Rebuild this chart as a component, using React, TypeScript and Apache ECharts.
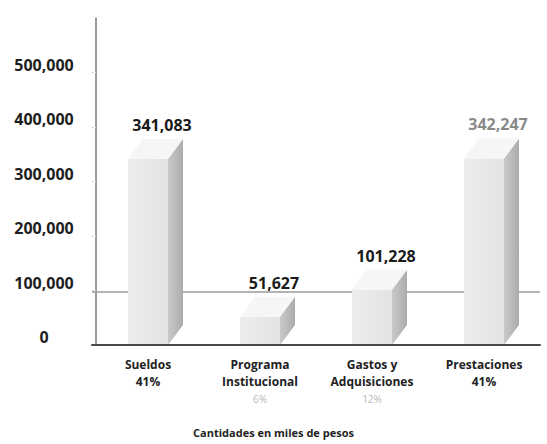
import React, { useEffect, useRef } from "react";
import * as echarts from "echarts";

const categories = ["Sueldos", "Programa\nInstitucional", "Gastos y\nAdquisiciones", "Prestaciones"];
const shares = ["41%", "6%", "12%", "41%"];
const values = [341083, 51627, 101228, 342247];
const yTickLabels = ["0", "100,000", "200,000", "300,000", "400,000", "500,000"];
const referenceLine = 97000;
const chartTitle = "Cantidades en miles de pesos";

const FONT = "'Open Sans', 'DejaVu Sans', sans-serif";

export default function App() {
  const ref = useRef<HTMLDivElement>(null);
  useEffect(() => {
    document.body.style.margin = "0";
    const chart = echarts.init(ref.current!, null, { renderer: "svg" });
    const faintShare = (i: number) => i === 1 || i === 2;
    const option: any = {
      animation: false,
      backgroundColor: "#ffffff",
      title: {
        text: chartTitle,
        left: "center",
        bottom: 1,
        textStyle: { fontSize: 11, fontWeight: "bold", color: "#222", fontFamily: FONT },
      },
      grid: { left: 92, right: 7, top: 18, bottom: 99, containLabel: false },
      xAxis: {
        type: "category",
        data: categories,
        z: 4,
        axisLine: { show: true, lineStyle: { color: "#4a4a4a", width: 2 } },
        axisTick: { show: false },
        axisLabel: {
          interval: 0,
          margin: 11,
          formatter: (v: string, i: number) => {
            const nameLines = v.split("\n").map((l) => `{n|${l}}`).join("\n");
            const s = faintShare(i) ? `{f|${shares[i]}}` : `{p|${shares[i]}}`;
            return nameLines + "\n" + s;
          },
          rich: {
            n: { fontSize: 12, fontWeight: "bold", color: "#222", lineHeight: 17, fontFamily: FONT },
            p: { fontSize: 12, fontWeight: "bold", color: "#222", lineHeight: 17, fontFamily: FONT },
            f: { fontSize: 10, color: "#b8b8b8", lineHeight: 17, fontFamily: FONT },
          },
        },
      },
      yAxis: {
        type: "value",
        min: 0,
        max: 600000,
        interval: 100000,
        offset: -4,
        axisLine: { show: true, lineStyle: { color: "#7a7a7a", width: 1.5 } },
        axisTick: { show: true, length: 5, lineStyle: { color: "#e2e2e2" } },
        splitLine: { show: false },
        axisLabel: {
          showMaxLabel: false,
          align: "center",
          verticalAlign: "bottom",
          margin: 52,
          fontSize: 16,
          fontWeight: "bold",
          color: "#1e1e1e",
          fontFamily: FONT,
          formatter: (v: number) => {
            const i = Math.round(v / 100000);
            return yTickLabels[i] ?? "";
          },
        },
      },
      series: [
        {
          type: "line",
          z: 1,
          data: ["-", "-", "-", "-"],
          silent: true,
          markLine: {
            z: 1,
            silent: true,
            symbol: "none",
            label: { show: false },
            lineStyle: { color: "#9a9a9a", width: 1.5, type: "solid" },
            data: [{ yAxis: referenceLine }],
          },
        },
        {
          type: "custom",
          z: 3,
          data: values.map((v, i) => [i, v]),
          encode: { x: 0, y: 1 },
          renderItem: (params: any, api: any) => {
            const idx = api.value(0);
            const v = api.value(1);
            const top = api.coord([idx, v]);
            const base = api.coord([idx, 0]);
            const w = 40;
            const dx = 15;
            const dy = 20;
            const x0 = top[0] - w / 2;
            const x1 = top[0] + w / 2;
            const labelColor = idx === 3 ? "#8a8a8a" : "#1a1a1a";
            return {
              type: "group",
              children: [
                {
                  type: "rect",
                  shape: { x: x0, y: top[1], width: w, height: base[1] - top[1] },
                  style: {
                    fill: new echarts.graphic.LinearGradient(0, 0, 1, 0, [
                      { offset: 0, color: "#ededed" },
                      { offset: 1, color: "#e3e3e3" },
                    ]),
                  },
                },
                {
                  type: "polygon",
                  shape: {
                    points: [
                      [x1, top[1]],
                      [x1 + dx, top[1] - dy],
                      [x1 + dx, base[1] - dy],
                      [x1, base[1]],
                    ],
                  },
                  style: {
                    fill: new echarts.graphic.LinearGradient(0, 0, 1, 0, [
                      { offset: 0, color: "#c9c9c9" },
                      { offset: 1, color: "#acacac" },
                    ]),
                  },
                },
                {
                  type: "polygon",
                  shape: {
                    points: [
                      [x0, top[1]],
                      [x0 + dx, top[1] - dy],
                      [x1 + dx, top[1] - dy],
                      [x1, top[1]],
                    ],
                  },
                  style: { fill: "#f6f6f6" },
                },
                {
                  type: "text",
                  x: top[0] + 14,
                  y: top[1] - dy - 6,
                  style: {
                    text: values[idx].toLocaleString("en-US"),
                    fill: labelColor,
                    fontSize: 16,
                    fontWeight: "bold",
                    fontFamily: FONT,
                    align: "center",
                    verticalAlign: "bottom",
                  },
                },
              ],
            };
          },
        },
      ],
    };
    chart.setOption(option);
    return () => chart.dispose();
  }, []);
  return <div ref={ref} style={{ width: 547, height: 444 }} />;
}
